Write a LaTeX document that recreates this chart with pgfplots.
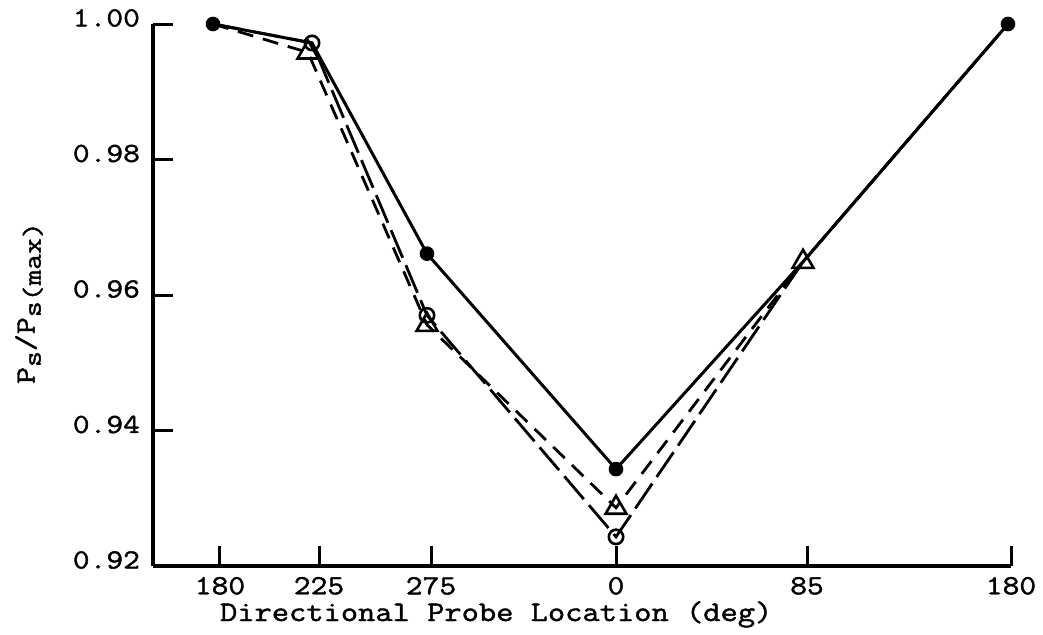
\documentclass[border=0pt]{standalone}
\usepackage{fontspec}
\setmainfont{Latin Modern Mono}[FakeStretch=1.18, RawFeature={embolden=1.6}]
\usepackage{pgfplots}
\pgfplotsset{compat=1.18}
\newcommand{\sub}[1]{\raisebox{-0.5ex}{\fontsize{13}{15}\selectfont #1}}
\begin{document}
\begin{tikzpicture}
\begin{axis}[
  scale only axis, width=429pt, height=271pt,
  xmin=153, xmax=1011, ymin=0.92, ymax=1.00,
  axis x line=bottom, axis y line=left,
  axis line style={line width=1.6pt,-},
  tick align=inside, major tick length=10pt,
  every tick/.style={line width=1.5pt,black},
  xtick={220,319,431,616,807,1011}, xticklabels={180,225,275,0,85,180},
  ytick={0.92,0.94,0.96,0.98,1.00},
  yticklabel style={/pgf/number format/fixed,/pgf/number format/precision=2,/pgf/number format/fixed zerofill},
  /pgf/number format/assume math mode=true,
  ticklabel style={font=\fontsize{13.8}{16}\selectfont},
  xticklabel style={yshift=-2pt},
  yticklabel style={xshift=-3pt, yshift=3pt},
  xlabel={Directional Probe Location (deg)},
  xlabel style={font=\fontsize{14.2}{16}\selectfont, at={(axis description cs:0.40,0)}, anchor=base, yshift=-27.5pt},
  ylabel={P\sub{s}/P\sub{s(max)}},
  ylabel style={font=\fontsize{14}{16}\selectfont, at={(axis description cs:0,0.485)}, anchor=center, yshift=62pt},
  clip=false,
]
% solid, filled dots
\addplot[black, line width=1.5pt, mark=*, mark size=2.9pt, mark indices={1,3,4,6}]
  coordinates {(213,1.000) (312,0.9972) (427,0.9661) (616,0.9343) (803,0.9649) (1008,1.000)};
% long dash, open circles
\addplot[black, line width=1.4pt, dash pattern=on 15pt off 4pt, mark=o, mark size=3.6pt,
  mark options={solid, fill=white, line width=1.3pt}, mark indices={2,3,4}]
  coordinates {(213,1.000) (312,0.9972) (427,0.9570) (616,0.9243) (803,0.9649) (1008,1.000)};
% short dash, triangles
\addplot[black, line width=1.4pt, dash pattern=on 8pt off 5pt, mark=triangle, mark size=6pt,
  mark options={solid, fill=white, line width=1.3pt}, mark indices={2,3,4,5}]
  coordinates {(213,1.000) (308,0.9958) (427,0.9556) (616,0.9286) (803,0.9649) (1008,1.000)};
\end{axis}
\path ([xshift=-76.5pt,yshift=-30pt]current axis.south west) rectangle ([xshift=16pt,yshift=12pt]current axis.north east);
\end{tikzpicture}
\end{document}
